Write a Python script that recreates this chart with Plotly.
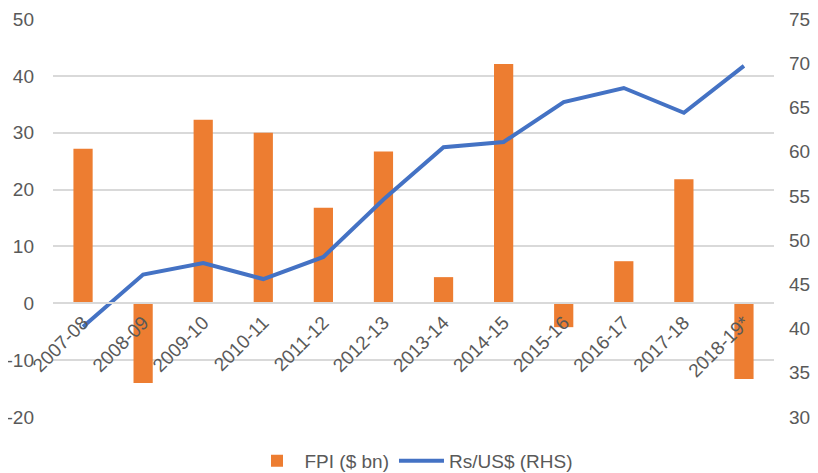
import plotly.graph_objects as go

years = ['2007-08', '2008-09', '2009-10', '2010-11', '2011-12', '2012-13',
         '2013-14', '2014-15', '2015-16', '2016-17', '2017-18', '2018-19*']
fpi = [27.2, -14.0, 32.3, 30.0, 16.8, 26.7, 4.6, 42.1, -4.2, 7.4, 21.8, -13.3]
rs_usd = [40.2, 46.1, 47.4, 45.6, 48.1, 54.6, 60.5, 61.1, 65.6, 67.2, 64.4, 69.7]

# left axis ticks, written with a plain hyphen like the original
fpi_ticks = [-20, -10, 0, 10, 20, 30, 40, 50]
fpi_tick_text = ['-20', '-10', '0', '10', '20', '30', '40', '50']

font_family = "Liberation Sans"
grey = "#595959"

fig = go.Figure()

# FPI bars on the left axis
fig.add_trace(go.Bar(
    x=years, y=fpi, name='FPI ($ bn)',
    marker=dict(color='#ED7D31', line=dict(width=0)),
))

# Rupee rate on the right axis
fig.add_trace(go.Scatter(
    x=years, y=rs_usd, name='Rs/US$ (RHS)', yaxis='y2',
    mode='lines', line=dict(color='#4472C4', width=4),
))

# page body adds an 8px offset, so margins are shifted to compensate
fig.update_layout(
    width=818, height=473,
    margin=dict(l=45, r=52, t=11, b=64, autoexpand=False),
    plot_bgcolor='white', paper_bgcolor='white',
    font=dict(family=font_family, size=19, color=grey),
    showlegend=True,
    legend=dict(orientation='h', x=0.5, xanchor='center', y=-0.11, yanchor='middle',
                font=dict(size=19, color=grey), itemwidth=45),
    bargap=0.68,
    xaxis=dict(
        type='category',
        anchor='free', position=20 / 70,
        tickangle=-45, showgrid=False, ticks='',
        showline=True, linecolor='#d9d9d9', linewidth=1.5,
        tickfont=dict(size=19, color=grey),
    ),
    yaxis=dict(
        range=[-20, 50], tickvals=fpi_ticks, ticktext=fpi_tick_text,
        showgrid=True, gridcolor='#d9d9d9', gridwidth=1.5,
        zeroline=False, showline=False, ticks='',
        ticklabelstandoff=18,
        tickfont=dict(size=19, color=grey),
    ),
    yaxis2=dict(
        range=[30, 75], dtick=5, overlaying='y', side='right',
        showgrid=False, zeroline=False, showline=False, ticks='',
        ticklabelstandoff=14,
        tickfont=dict(size=19, color=grey),
    ),
)

fig.write_html("out.html")
